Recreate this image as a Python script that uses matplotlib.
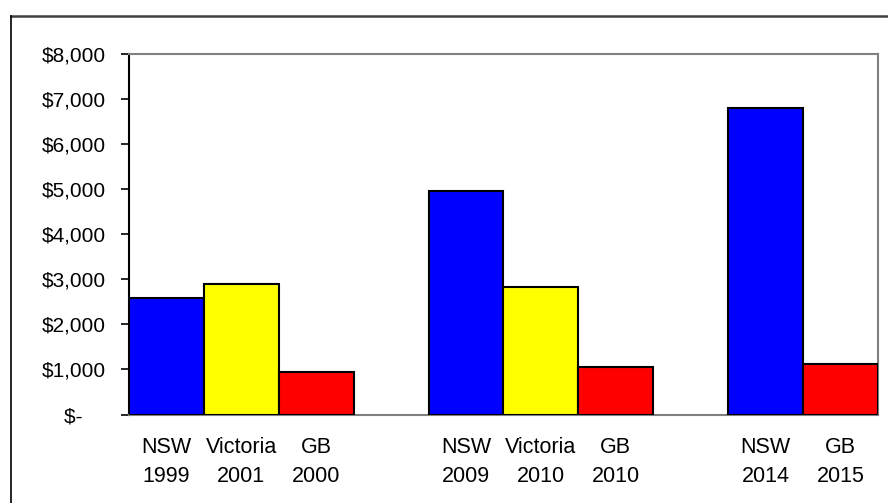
import matplotlib.pyplot as plt
from matplotlib.lines import Line2D
import numpy as np

plt.rcParams['font.family'] = ['Liberation Sans', 'DejaVu Sans']

# spend per player, grouped by survey; None marks the blank slot between groups
regions = ['NSW', 'Victoria', 'GB', None, 'NSW', 'Victoria', 'GB', None, 'NSW', 'GB']
years = ['1999', '2001', '2000', None, '2009', '2010', '2010', None, '2014', '2015']
spend = [2580, 2890, 940, None, 4950, 2820, 1050, None, 6800, 1120]

region_colors = {'NSW': '#0000FF', 'Victoria': '#FFFF00', 'GB': '#FF0000'}

y_ticks = [0, 1000, 2000, 3000, 4000, 5000, 6000, 7000, 8000]
y_labels = ['$-    ', '$1,000', '$2,000', '$3,000', '$4,000',
            '$5,000', '$6,000', '$7,000', '$8,000']

fig = plt.figure(figsize=(8.88, 5.03), dpi=100)
ax = fig.add_axes([0.1453, 0.1759, 0.8434, 0.7167])

slots = np.arange(len(spend))
for i, (reg, yr, val) in enumerate(zip(regions, years, spend)):
    if val is None:
        continue
    ax.bar(slots[i], val, width=1.0, color=region_colors[reg],
           edgecolor='black', linewidth=1.5, zorder=3)

ax.set_xlim(-0.5, len(spend) - 0.5)
ax.set_ylim(0, 8000)

tick_labels = ['' if r is None else f'{r}\n{y}' for r, y in zip(regions, years)]
ax.set_xticks(slots)
ax.set_xticklabels(tick_labels, fontsize=15.5, linespacing=1.5)
ax.tick_params(axis='x', length=0, pad=16)

ax.set_yticks(y_ticks)
ax.set_yticklabels(y_labels, fontsize=15)
ax.tick_params(axis='y', length=6, width=1.2, pad=11, direction='out')

ax.spines['left'].set_color('black')
ax.spines['left'].set_linewidth(1.5)
for side in ['top', 'right', 'bottom']:
    ax.spines[side].set_color('#808080')
    ax.spines[side].set_linewidth(1.5)

# outer chart frame, running off the right and bottom edges
fig.add_artist(Line2D([11 / 888, 1.0], [1 - 15.5 / 503] * 2,
                      transform=fig.transFigure, color='#404040', linewidth=1.8))
fig.add_artist(Line2D([11 / 888] * 2, [0.0, 1 - 15.5 / 503],
                      transform=fig.transFigure, color='black', linewidth=1.2))

fig.savefig('out.png', dpi=100)
